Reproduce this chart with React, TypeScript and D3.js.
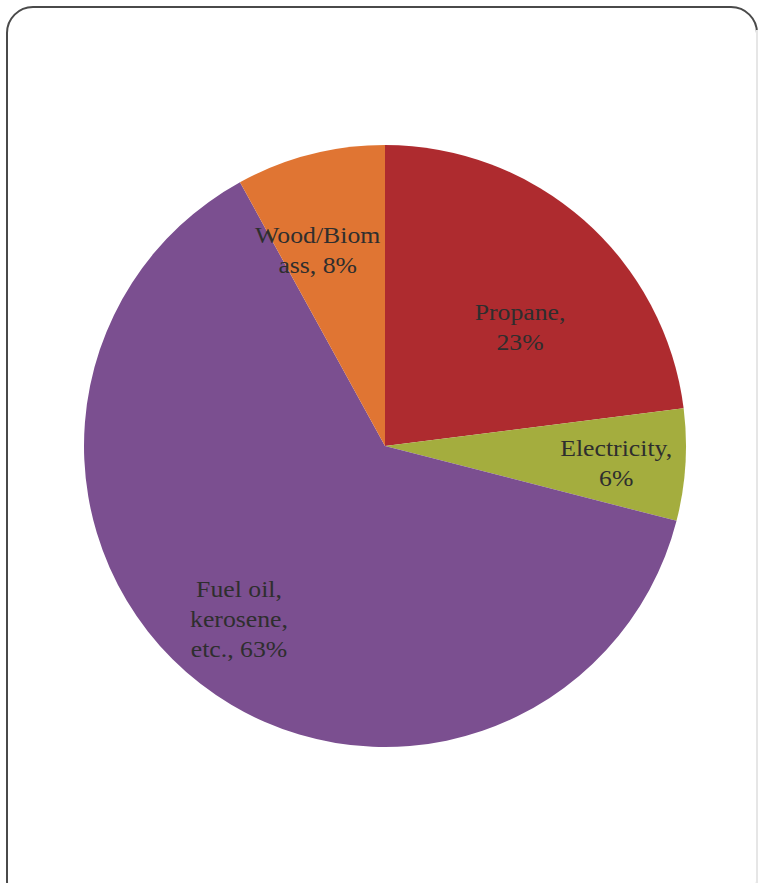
import React from "react";
import * as d3 from "d3";

const categories = ["Propane", "Electricity", "Fuel oil, kerosene, etc.", "Wood/Biomass"];
const values = [23, 6, 63, 8];
const labelLines = [
  ["Propane,", "23%"],
  ["Electricity,", "6%"],
  ["Fuel oil,", "kerosene,", "etc., 63%"],
  ["Wood/Biom", "ass, 8%"],
];
const colors = ["#ae2b2f", "#a4ad3e", "#7b4f90", "#e07533"];

const W = 758;
const H = 883;
const cx = 385;
const cy = 446;
const R = 301;
// label placement: radius fraction and angle tweak (degrees) relative to slice mid-angle
const labelLayout = [
  { f: 0.6, da: 7 },
  { f: 0.77, da: 0.5 },
  { f: 0.75, da: 2.5 },
  { f: 0.69, da: -4.5 },
];

export default function App() {
  const pie = d3.pie<number>().sort(null).value((d) => d);
  const arcs = pie(values);
  const arcGen = d3.arc<d3.PieArcDatum<number>>().innerRadius(0).outerRadius(R);
  const lineH = 30;
  const sx = 1.12;
  return (
    <svg
      width={W}
      height={H}
      style={{ position: "absolute", left: 0, top: 0, background: "#fff" }}
    >
      <rect x={7} y={7} width={750} height={900} rx={26} ry={26} fill="#fff" stroke="#4a4a4a" strokeWidth={2} />
      <line x1={757} y1={30} x2={757} y2={883} stroke="#e6e6e6" strokeWidth={2} />
      <g transform={`translate(${cx},${cy})`}>
        {arcs.map((a, i) => (
          <path key={categories[i]} d={arcGen(a) || ""} fill={colors[i]} />
        ))}
        {arcs.map((a, i) => {
          const mid = (a.startAngle + a.endAngle) / 2 + (labelLayout[i].da * Math.PI) / 180;
          const r = R * labelLayout[i].f;
          const x = r * Math.sin(mid);
          const y = -r * Math.cos(mid);
          const lines = labelLines[i];
          const y0 = y - ((lines.length - 1) * lineH) / 2;
          return (
            <g key={"l" + i} transform={`translate(${x},${y0}) scale(${sx},1)`}>
              <text
                textAnchor="middle"
                dominantBaseline="central"
                fontFamily="'Liberation Serif', 'Times New Roman', serif"
                fontSize={23}
                fill="#2e2e2e"
              >
                {lines.map((l, j) => (
                  <tspan key={j} x={0} y={j * lineH}>
                    {l}
                  </tspan>
                ))}
              </text>
            </g>
          );
        })}
      </g>
    </svg>
  );
}
